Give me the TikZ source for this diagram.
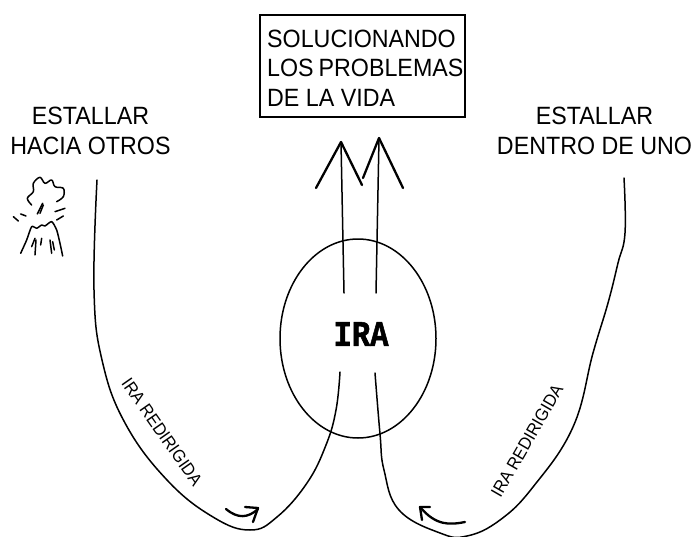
\documentclass[tikz,border=0pt]{standalone}
\usepackage{fontspec}
\setmainfont[FakeStretch=0.93]{Liberation Sans}
\newfontfamily\irafont[FakeBold=1.5, FakeStretch=0.85]{Liberation Mono Bold}
\usetikzlibrary{shapes.geometric}

\tikzset{
	sketch/.style={line width=1.5pt, line cap=round, line join=round},
	heavy/.style={line width=2.3pt, line cap=round, line join=round},
	bigtext/.style={font=\fontsize{25}{29.5}\selectfont, inner sep=0pt},
	smalltext/.style={font=\fontsize{17.5}{18}\selectfont, inner sep=0pt}
}

\begin{document}
\begin{tikzpicture}[x=1pt, y=-1pt]
		\useasboundingbox (0, 0) rectangle (695, 537);
		\node [bigtext, align=center] (otros) at (90.5, 131) {ESTALLAR\\HACIA OTROS};
		\node [bigtext, align=center] (uno) at (594.5, 131) {ESTALLAR\\DENTRO DE UNO};
		\node [draw, line width=2pt, minimum width=205pt, minimum height=102pt] (vida) at (362.5, 66) {};
		\node [bigtext, align=left, anchor=west] (vidatext) at (267, 68) {SOLUCIONANDO\\LOS\kern-1.5pt{} PROBLEMAS\\DE LA VIDA};
		\node [ellipse, draw, sketch, minimum width=156pt, minimum height=199pt, inner sep=0pt] (ira) at (358, 338.5) {};
		\node [font=\fontsize{36}{36}\irafont, inner sep=0pt] (iratext) at (361, 334) {IRA};
		\node [smalltext, rotate=-55] (izq) at (162, 432) {IRA REDIRIGIDA};
		\node [smalltext, rotate=60] (der) at (527, 441) {IRA REDIRIGIDA};
		% flechas de arriba
		\coordinate (tipa) at (341, 142);
		\coordinate (tipb) at (379, 138);
		\coordinate (basea) at (344, 293);
		\coordinate (baseb) at (376, 293);
		\draw [sketch] (basea) -- (tipa);
		\draw [sketch] (baseb) -- (tipb);
		\draw [heavy] (316, 188) -- (tipa) -- (362, 185);
		\draw [heavy] (363, 178) -- (tipb) -- (403, 188);
		% curvas
		\coordinate (izqa) at (97, 180);
		\coordinate (izqb) at (340, 372);
		\coordinate (dera) at (624, 178);
		\coordinate (derb) at (375, 373);
		\draw [sketch] plot [smooth, tension=.7] coordinates {(izqa) (94, 290) (102, 360) (125, 423) (167, 480) (213, 517) (250, 530) (277, 517) (307, 483) (326, 445) (336, 410) (izqb)};
		\draw [sketch] plot [smooth, tension=.7] coordinates {(derb) (380, 434) (384, 470) (399, 510) (440, 533) (467, 536) (500, 520) (533, 487) (573, 427) (593, 353) (608, 303) (618, 263) (625, 233) (dera)};
		% flechitas
		\draw [heavy] (226, 509) .. controls (238, 519) and (248, 518) .. (258, 509);
		\draw [heavy] (245, 507) -- (258, 508) -- (253, 522);
		\draw [heavy] (465, 522) .. controls (450, 525) and (436, 526) .. (420, 507);
		\draw [heavy] (430, 507) -- (420, 507) -- (422, 520);
		% volcan
		\begin{scope}[x=.3333pt, y=-.3333pt, yshift=-90pt]
			\draw [sketch] plot [smooth, tension=.6] coordinates {(95, 345) (82, 325) (100, 305) (100, 280) (120, 262) (135, 280) (155, 270) (165, 290) (190, 295) (190, 320) (170, 335)};
			\draw [sketch] plot [smooth, tension=.4] coordinates {(62, 490) (80, 450) (95, 410) (110, 415) (125, 405) (135, 408) (155, 395) (170, 420) (180, 460) (188, 498)};
			\foreach \ax/\ay/\bx/\by in {112/372/128/340, 120/370/130/345, 40/380/55/393, 62/372/78/378, 165/365/195/355, 170/390/190/378, 95/470/105/445, 105/495/108/450, 122/465/125/445, 155/490/150/450, 163/480/158/455}
				\draw [sketch] (\ax, \ay) -- (\bx, \by);
		\end{scope}
	\end{tikzpicture}
\end{document}
